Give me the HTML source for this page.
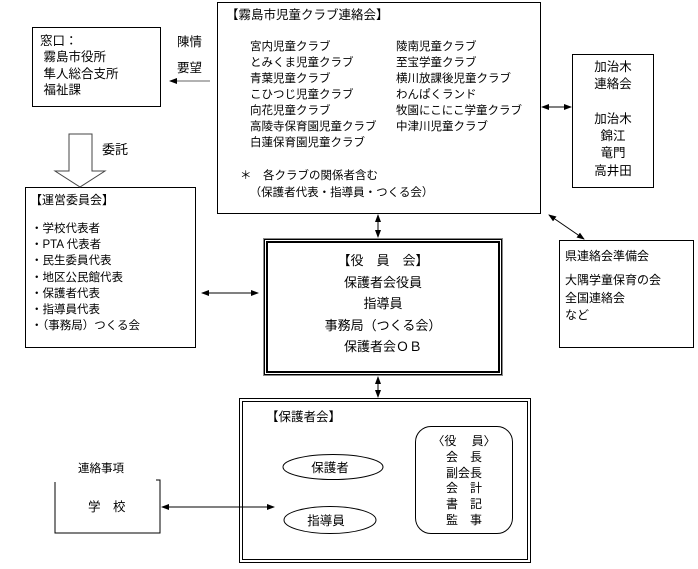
<!DOCTYPE html>
<html><head><meta charset="utf-8"><style>
body{margin:0;width:698px;height:569px;background:#fff;position:relative;overflow:hidden;font-family:"Liberation Sans","Noto Sans CJK JP",sans-serif;color:#000}
.b{position:absolute;border:1px solid #000;box-sizing:border-box}
.t{position:absolute;white-space:nowrap;font-size:11.5px;line-height:16px}
svg{position:absolute;left:0;top:0}
</style></head><body>
<div class="b" style="left:217px;top:2px;width:324px;height:212px"></div>
<div class="t" style="left:226px;top:7px;font-size:12.5px">【霧島市児童クラブ連絡会】</div>
<div class="t" style="left:250px;top:39px">宮内児童クラブ<br>とみくま児童クラブ<br>青葉児童クラブ<br>こひつじ児童クラブ<br>向花児童クラブ<br>高陵寺保育園児童クラブ<br>白蓮保育園児童クラブ</div>
<div class="t" style="left:396px;top:39px">陵南児童クラブ<br>至宝学童クラブ<br>横川放課後児童クラブ<br>わんぱくランド<br>牧園にこにこ学童クラブ<br>中津川児童クラブ</div>
<div class="t" style="left:240px;top:168px;line-height:17px">＊　各クラブの関係者含む<br>&nbsp;&nbsp;&nbsp;（保護者代表・指導員・つくる会）</div>

<div class="b" style="left:32px;top:27px;width:129px;height:80px"></div>
<div class="t" style="left:40px;top:33px;font-size:12.5px;line-height:16.4px">窓口：<br>&nbsp;霧島市役所<br>&nbsp;隼人総合支所<br>&nbsp;福祉課</div>
<div class="t" style="left:177px;top:34px;font-size:12.5px">陳情</div>
<div class="t" style="left:177px;top:60px;font-size:12.5px">要望</div>
<div class="t" style="left:102px;top:142px;font-size:13px">委託</div>

<div class="b" style="left:25px;top:187px;width:171px;height:161px"></div>
<div class="t" style="left:30px;top:192px;font-size:12px">【運営委員会】</div>
<div class="t" style="left:31px;top:221px;line-height:16.2px">・学校代表者<br>・PTA 代表者<br>・民生委員代表<br>・地区公民館代表<br>・保護者代表<br>・指導員代表<br>・（事務局）つくる会</div>

<div class="b" style="left:263px;top:238px;width:240px;height:138px;border:5px double #000;outline:1px solid #888;outline-offset:-1px"></div>
<div class="t" style="left:263px;width:240px;text-align:center;top:250px;font-size:13px;line-height:21.5px">【役　員　会】<br>保護者会役員<br>指導員<br>事務局（つくる会）<br>保護者会ＯＢ</div>

<div class="b" style="left:572px;top:54px;width:82px;height:134px"></div>
<div class="t" style="left:572px;width:82px;text-align:center;top:59px;font-size:12.5px;line-height:17.3px">加治木<br>連絡会<br><br>加治木<br>錦江<br>竜門<br>高井田</div>

<div class="b" style="left:559px;top:240px;width:135px;height:108px"></div>
<div class="t" style="left:565px;top:248px;font-size:12px;line-height:17px">県連絡会準備会</div>
<div class="t" style="left:565px;top:272px;font-size:12px;line-height:17.5px">大隅学童保育の会<br>全国連絡会<br>など</div>

<div class="b" style="left:239px;top:398px;width:292px;height:165px;border:4px double #000"></div>
<div class="t" style="left:266px;top:409px;font-size:12.5px">【保護者会】</div>
<div class="b" style="left:415px;top:426px;width:98px;height:108px;border-radius:16px"></div>
<div class="t" style="left:415px;width:98px;text-align:center;top:434px;font-size:12px;line-height:15.8px">〈役　 員〉<br>会　長<br>副会長<br>会　計<br>書　記<br>監　事</div>
<div class="t" style="left:78px;top:461px;font-size:11.5px">連絡事項</div>
<div class="t" style="left:88px;top:499px;font-size:12.5px">学　校</div>

<svg width="698" height="569" viewBox="0 0 698 569">
<defs><marker id="a" markerWidth="8" markerHeight="8" refX="7" refY="4" orient="auto-start-reverse" markerUnits="userSpaceOnUse"><path d="M0,1 L8,4 L0,7z" fill="#000"/></marker></defs>
<g stroke="#000" fill="none" stroke-width="1">
<line x1="210" y1="81" x2="170" y2="81" marker-end="url(#a)" stroke="#666"/>
<path d="M69,134 H92 V171 H105 L80,187 L55,171 H69 Z" stroke="#444"/>
<line x1="202" y1="293" x2="258" y2="293" marker-start="url(#a)" marker-end="url(#a)"/>
<line x1="378" y1="215" x2="378" y2="237" marker-start="url(#a)" marker-end="url(#a)"/>
<line x1="378" y1="377" x2="378" y2="397" marker-start="url(#a)" marker-end="url(#a)"/>
<line x1="542" y1="107" x2="571" y2="107" marker-start="url(#a)" marker-end="url(#a)"/>
<line x1="549" y1="215" x2="584" y2="239" marker-start="url(#a)" marker-end="url(#a)"/>
<line x1="162" y1="507" x2="274" y2="507" marker-start="url(#a)" marker-end="url(#a)"/>
<path d="M55,482 V533 H160 V480 H156"/>
<ellipse cx="333" cy="467" rx="50" ry="12.5"/>
<ellipse cx="330" cy="520" rx="46" ry="13.5"/>
</g>
<g font-size="12.5" font-family="Liberation Sans, Noto Sans CJK JP, sans-serif" text-anchor="middle">
<text x="330" y="472">保護者</text>
<text x="326" y="525">指導員</text>
</g>
</svg>
</body></html>
